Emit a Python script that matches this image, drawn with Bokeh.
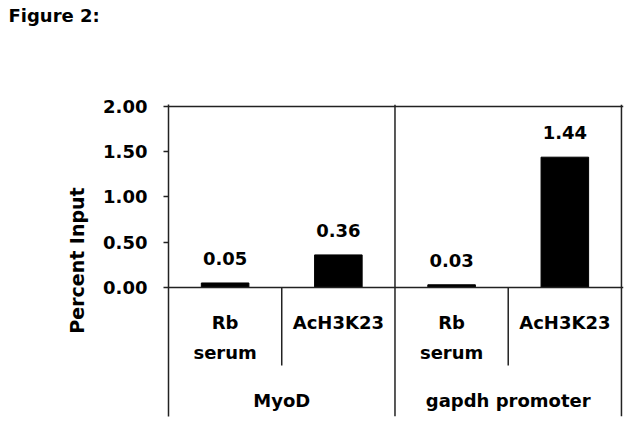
from bokeh.plotting import figure
from bokeh.layouts import column
from bokeh.models import Range1d, FixedTicker, Span, NumeralTickFormatter
from bokeh.core.properties import value
from bokeh.embed import file_html
from bokeh.resources import INLINE

# ---- data ----
groups = ["MyoD", "MyoD", "gapdh promoter", "gapdh promoter"]
antibodies = ["Rb serum", "AcH3K23", "Rb serum", "AcH3K23"]
percent_input = [0.05, 0.36, 0.03, 1.44]
value_labels = ["0.05", "0.36", "0.03", "1.44"]
y_ticks = [0.0, 0.5, 1.0, 1.5, 2.0]
title_text = "Figure 2:"
y_label = "Percent Input"

FONT = value("DejaVu Sans")
FS = "18px"
W = 633
TH = 30

xpos = list(range(len(antibodies)))
group_names = []
for g in groups:
    if g not in group_names:
        group_names.append(g)
group_centers = [sum(i for i, gg in enumerate(groups) if gg == g) / groups.count(g) for g in group_names]

# ---- title strip ----
t = figure(width=W, height=TH, output_backend="svg", toolbar_location=None,
           x_range=Range1d(0, W), y_range=Range1d(0, TH),
           x_axis_location=None, y_axis_location=None,
           min_border=0)
t.frame_align = False
t.grid.visible = False
t.outline_line_color = None
t.text(x=[8], y=[TH - 15], text=[title_text], text_align="left", text_baseline="middle",
       text_font=FONT, text_font_style="bold", text_font_size=FS, text_color="black")

# ---- main chart ----
p = figure(width=W, height=428 - TH, output_backend="svg", toolbar_location=None,
           x_range=Range1d(-0.5, 3.518), y_range=Range1d(-1.4254, 2.022),
           x_axis_location=None,
           min_border_left=168, min_border_right=10, min_border_top=104 - TH, min_border_bottom=12)
p.frame_align = False
p.grid.visible = False
p.outline_line_color = None
p.background_fill_color = "white"
p.border_fill_color = "white"

ax = p.yaxis[0]
ax.ticker = FixedTicker(ticks=y_ticks)
ax.formatter = NumeralTickFormatter(format="0.00")
ax.minor_tick_line_color = None
ax.major_tick_in = 0
ax.major_tick_out = 5
ax.major_label_standoff = 16
ax.axis_line_color = "#222222"
ax.axis_line_width = 1.5
ax.major_tick_line_color = "#222222"
ax.major_tick_line_width = 1.5
ax.major_label_text_font = "DejaVu Sans"
ax.major_label_text_font_style = "bold"
ax.major_label_text_font_size = FS
ax.major_label_text_color = "black"
ax.axis_label = y_label
ax.axis_label_text_font = "DejaVu Sans"
ax.axis_label_text_font_style = "bold"
ax.axis_label_text_font_size = "19px"
ax.axis_label_text_color = "black"
ax.axis_label_standoff = 12

# bars
p.vbar(x=xpos, top=percent_input, width=0.42, fill_color="black", line_color="black")
p.text(x=xpos, y=percent_input, text=value_labels, text_align="center", text_baseline="bottom",
       y_offset=-18, text_font=FONT, text_font_style="bold", text_font_size=FS, text_color="black")

# frame and table lines
LC = "#222222"
for yv in [0.0, 2.0]:
    p.add_layout(Span(location=yv, dimension="width", line_color=LC, line_width=1.5))
p.add_layout(Span(location=3.5, dimension="height", line_color=LC, line_width=1.5))
for k in range(1, len(group_names)):
    xb = sum(groups.count(g) for g in group_names[:k]) - 0.5
    p.add_layout(Span(location=xb, dimension="height", line_color=LC, line_width=1.5))
inner_x = [i + 0.5 for i in range(len(antibodies) - 1) if groups[i] == groups[i + 1]]
p.segment(x0=inner_x, y0=[0.0] * len(inner_x), x1=inner_x, y1=[-0.862] * len(inner_x),
          line_color=LC, line_width=1.5)

# category labels
line1 = [a.split(" ")[0] for a in antibodies]
line2 = [a.split(" ")[1] if " " in a else "" for a in antibodies]
p.text(x=xpos, y=[-0.387] * 4, text=line1, text_align="center", text_baseline="middle",
       text_font=FONT, text_font_style="bold", text_font_size=FS, text_color="black")
p.text(x=xpos, y=[-0.718] * 4, text=line2, text_align="center", text_baseline="middle",
       text_font=FONT, text_font_style="bold", text_font_size=FS, text_color="black")
p.text(x=group_centers, y=[-1.249] * len(group_centers), text=group_names, text_align="center",
       text_baseline="middle", text_font=FONT, text_font_style="bold", text_font_size=FS,
       text_color="black")

layout = column(t, p, spacing=0)
open("out.html", "w").write(file_html(layout, INLINE))
